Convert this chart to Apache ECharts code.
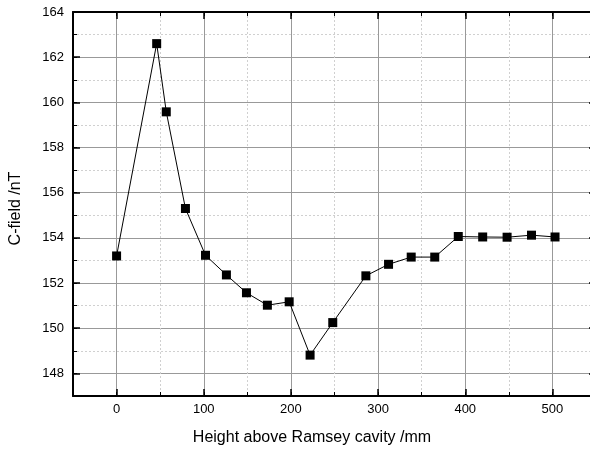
<!DOCTYPE html>
<html><head><meta charset="utf-8">
<script src="https://cdn.jsdelivr.net/npm/echarts@6/dist/echarts.min.js"></script>
<style>html,body{margin:0;padding:0;background:#fff}#c{width:590px;height:455px}</style>
</head><body><div id="c"></div>
<script>
// Data
const heights = [0, 46, 57, 79, 102, 126, 149, 173, 198, 222, 248, 286, 312, 338, 365, 392, 420, 448, 476, 503];
const cField  = [153.2, 162.6, 159.58, 155.3, 153.23, 152.36, 151.57, 151.02, 151.17, 148.81, 150.25, 152.32, 152.83, 153.15, 153.15, 154.06, 154.04, 154.03, 154.12, 154.04];
const xRange = [-50, 550];
const yRange = [147, 164];
const xTitle = 'Height above Ramsey cavity /mm';
const yTitle = 'C-field /nT';

const FONT = 'Liberation Sans, Arial, sans-serif';
const CLEAR = 'rgba(0,0,0,0)';

function majorAxis(range, splitNumber, position, isMain, lineWidth) {
  return {
    type: 'value', min: range[0], max: range[1], splitNumber: splitNumber,
    position: position,
    axisLine: { show: true, onZero: false, lineStyle: { color: '#000', width: lineWidth } },
    axisTick: { show: true, inside: true, length: 7, lineStyle: { color: '#000', width: 1.5 } },
    axisLabel: { show: isMain, showMinLabel: false, showMaxLabel: true,
      color: '#000', fontFamily: FONT, fontSize: 13, margin: 8 },
    splitLine: { show: isMain, lineStyle: { color: '#999', width: 1, type: 'solid' } }
  };
}
function minorAxis(range, interval, position, isMain) {
  return {
    type: 'value', min: range[0], max: range[1], interval: interval,
    position: position,
    axisLine: { show: false, onZero: false },
    axisTick: { show: true, inside: true, length: 4, lineStyle: { color: '#000', width: 1 } },
    axisLabel: { show: false },
    splitLine: { show: isMain, lineStyle: { color: ['#d0d0d0', CLEAR], width: 1, type: [2, 2] } }
  };
}

const xMain = majorAxis(xRange, 6, 'bottom', true, 2);
xMain.name = xTitle;
xMain.nameLocation = 'middle';
xMain.nameGap = 34;
xMain.nameTextStyle = { fontFamily: FONT, fontSize: 16, color: '#000', padding: [0, 45, 0, 0] };
xMain.axisLabel.margin = 7;
xMain.axisLabel.showMaxLabel = false;

const yMain = majorAxis(yRange, 8, 'left', true, 2);
yMain.name = yTitle;
yMain.nameLocation = 'middle';
yMain.nameGap = 49;
yMain.nameTextStyle = { fontFamily: FONT, fontSize: 16, color: '#000', padding: [0, 9, 0, 0] };
yMain.axisLabel.margin = 9;

const chart = echarts.init(document.getElementById('c'), null, { renderer: 'canvas' });
chart.setOption({
  animation: false,
  backgroundColor: '#fff',
  grid: { left: 73, top: 12, right: -6, bottom: 59, containLabel: false, outerBoundsMode: 'none' },
  xAxis: [
    xMain,
    minorAxis(xRange, 50, 'bottom', true),
    majorAxis(xRange, 6, 'top', false, 2),
    minorAxis(xRange, 50, 'top', false)
  ],
  yAxis: [
    yMain,
    minorAxis(yRange, 1, 'left', true),
    majorAxis(yRange, 8, 'right', false, 2),
    minorAxis(yRange, 1, 'right', false)
  ],
  series: [{
    type: 'line',
    xAxisIndex: 0, yAxisIndex: 0,
    data: heights.map((h, i) => [h, cField[i]]),
    symbol: 'rect', symbolSize: 9,
    itemStyle: { color: '#000' },
    lineStyle: { color: '#000', width: 1 },
    z: 10
  }]
});
</script>
</body></html>
